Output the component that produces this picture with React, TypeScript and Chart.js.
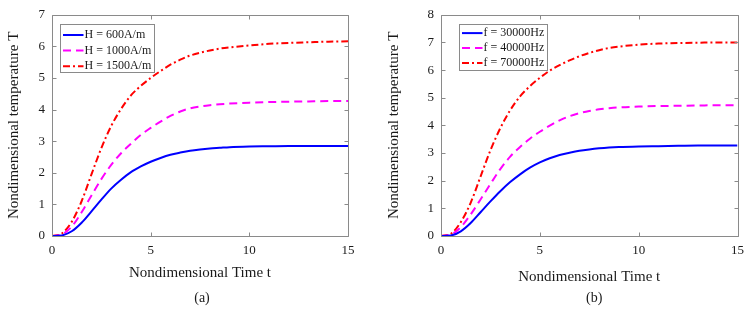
import React, { useEffect, useRef } from "react";
import { Chart, registerables } from "chart.js";

Chart.register(...registerables);

const FONT = "'Liberation Serif', 'Times New Roman', serif";
const TEXT_COLOR = "#1a1a1a";
const AXIS_COLOR = "#8a8a8a";

// Shared time axis (nondimensional time t)
const TIME = [0, 0.5, 1, 1.5, 2, 2.5, 3, 3.5, 4, 4.5, 5, 5.5, 6, 6.5, 7, 7.5, 8, 8.5, 9, 10, 11, 12, 13, 14, 15];

// Panel (a): magnetic field strength H
const H600 = [0, 0.02, 0.15, 0.42, 0.78, 1.15, 1.5, 1.78, 2.02, 2.2, 2.35, 2.47, 2.57, 2.64, 2.7, 2.74, 2.77, 2.79, 2.81, 2.83, 2.84, 2.85, 2.85, 2.85, 2.85];
const H1000 = [0, 0.05, 0.3, 0.75, 1.28, 1.8, 2.25, 2.62, 2.92, 3.2, 3.42, 3.62, 3.8, 3.94, 4.04, 4.1, 4.14, 4.17, 4.19, 4.22, 4.24, 4.25, 4.26, 4.27, 4.27];
const H1500 = [0, 0.08, 0.45, 1.1, 1.95, 2.78, 3.48, 4.02, 4.45, 4.75, 5.0, 5.22, 5.42, 5.58, 5.71, 5.8, 5.87, 5.93, 5.97, 6.03, 6.08, 6.11, 6.13, 6.15, 6.16];

// Panel (b): frequency f
const F30000 = [0, 0.02, 0.17, 0.47, 0.86, 1.25, 1.62, 1.95, 2.23, 2.47, 2.66, 2.81, 2.93, 3.01, 3.08, 3.13, 3.17, 3.2, 3.22, 3.24, 3.25, 3.26, 3.27, 3.27, 3.27];
const F40000 = [0, 0.05, 0.32, 0.78, 1.32, 1.88, 2.42, 2.87, 3.22, 3.52, 3.77, 3.99, 4.18, 4.33, 4.44, 4.52, 4.58, 4.62, 4.65, 4.68, 4.7, 4.71, 4.72, 4.73, 4.73];
const F70000 = [0, 0.08, 0.5, 1.2, 2.15, 3.1, 3.9, 4.55, 5.05, 5.42, 5.72, 5.98, 6.18, 6.35, 6.5, 6.62, 6.72, 6.8, 6.85, 6.92, 6.96, 6.98, 6.99, 7.0, 7.0];

const LABELS_A = ["H = 600A/m", "H = 1000A/m", "H = 1500A/m"];
const LABELS_B = ["f = 30000Hz", "f = 40000Hz", "f = 70000Hz"];

const X_TICKS = [0, 5, 10, 15];
const X_TITLE = "Nondimensional Time t";
const Y_TITLE = "Nondimensional temperature T";

const COLORS = ["#0000ff", "#ff00ff", "#ff0000"];
const DASHES: number[][] = [[], [8, 5], [7, 3, 2, 3]];

const framePlugin = {
  id: "matlabFrame",
  afterDatasetsDraw(chart: any) {
    const { ctx, chartArea, scales } = chart;
    const l = Math.round(chartArea.left) + 0.5;
    const r = Math.round(chartArea.right) + 0.5;
    const t = Math.round(chartArea.top) + 0.5;
    const b = Math.round(chartArea.bottom) + 0.5;
    ctx.save();
    ctx.strokeStyle = AXIS_COLOR;
    ctx.lineWidth = 1;
    ctx.setLineDash([]);
    ctx.beginPath();
    ctx.rect(l, t, r - l, b - t);
    const len = 4;
    scales.x.ticks.forEach((tk: any) => {
      const px = Math.round(scales.x.getPixelForValue(tk.value)) + 0.5;
      ctx.moveTo(px, b);
      ctx.lineTo(px, b - len);
      ctx.moveTo(px, t);
      ctx.lineTo(px, t + len);
    });
    scales.y.ticks.forEach((tk: any) => {
      const py = Math.round(scales.y.getPixelForValue(tk.value)) + 0.5;
      ctx.moveTo(l, py);
      ctx.lineTo(l + len, py);
      ctx.moveTo(r, py);
      ctx.lineTo(r - len, py);
    });
    ctx.stroke();
    ctx.restore();
  },
};

const boxLegendPlugin = {
  id: "boxLegend",
  afterDraw(chart: any, _args: any, opts: any) {
    const { ctx, chartArea } = chart;
    const x0 = Math.round(chartArea.left + opts.dx) + 0.5;
    const y0 = Math.round(chartArea.top + opts.dy) + 0.5;
    ctx.save();
    ctx.font = `12px ${FONT}`;
    const items = chart.data.datasets;
    const maxW = Math.max(...items.map((d: any) => ctx.measureText(d.label).width));
    const w = Math.round(24 + maxW + 3);
    ctx.fillStyle = "#ffffff";
    ctx.fillRect(x0, y0, w, opts.h);
    ctx.strokeStyle = AXIS_COLOR;
    ctx.lineWidth = 1;
    ctx.setLineDash([]);
    ctx.strokeRect(x0, y0, w, opts.h);
    items.forEach((d: any, i: number) => {
      const yy = y0 + opts.first + i * opts.rowH;
      ctx.strokeStyle = d.borderColor;
      ctx.lineWidth = 2;
      ctx.setLineDash(d.borderDash || []);
      ctx.beginPath();
      ctx.moveTo(x0 + 2.5, yy);
      ctx.lineTo(x0 + 23, yy);
      ctx.stroke();
      ctx.setLineDash([]);
      ctx.fillStyle = TEXT_COLOR;
      ctx.textBaseline = "middle";
      ctx.textAlign = "left";
      ctx.fillText(d.label, x0 + 24, yy);
    });
    ctx.restore();
  },
};

const captionPlugin = {
  id: "caption",
  afterDraw(chart: any, _args: any, opts: any) {
    const { ctx, chartArea } = chart;
    ctx.save();
    ctx.font = `14px ${FONT}`;
    ctx.fillStyle = TEXT_COLOR;
    ctx.textAlign = "center";
    ctx.textBaseline = "middle";
    ctx.fillText(opts.text, (chartArea.left + chartArea.right) / 2 + (opts.dx || 0), opts.y);
    ctx.restore();
  },
};

type PanelProps = {
  left: number;
  width: number;
  series: number[][];
  labels: string[];
  yMax: number;
  yAxisWidth: number;
  rightPad: number;
  yTitlePad: number;
  xTitlePad: number;
  legend: { dx: number; dy: number; h: number; first: number; rowH: number };
  caption: string;
  captionDx: number;
};

function Panel(p: PanelProps) {
  const ref = useRef<HTMLCanvasElement | null>(null);
  useEffect(() => {
    if (!ref.current) return;
    const datasets = p.series.map((vals, i) => ({
      label: p.labels[i],
      data: TIME.map((t, k) => ({ x: t, y: vals[k] })),
      borderColor: COLORS[i],
      backgroundColor: COLORS[i],
      borderWidth: 2,
      borderDash: DASHES[i],
      pointRadius: 0,
      fill: false,
      cubicInterpolationMode: "monotone" as const,
    }));
    const chart = new Chart(ref.current, {
      type: "line",
      data: { datasets },
      options: {
        animation: false,
        responsive: false,
        devicePixelRatio: 1,
        layout: { padding: { top: 7, right: p.rightPad, left: 0, bottom: 0 } },
        plugins: {
          legend: { display: false },
          tooltip: { enabled: false },
          boxLegend: p.legend,
          caption: { text: p.caption, y: 298, dx: p.captionDx },
        } as any,
        scales: {
          x: {
            type: "linear",
            min: 0,
            max: 15,
            afterBuildTicks: (s: any) => {
              s.ticks = X_TICKS.map((v) => ({ value: v }));
            },
            ticks: { font: { family: FONT, size: 13 }, color: TEXT_COLOR, padding: 7, maxRotation: 0 },
            grid: { display: false, drawTicks: false },
            border: { display: false },
            title: {
              display: true,
              text: X_TITLE,
              font: { family: FONT, size: 15 },
              color: TEXT_COLOR,
              padding: { top: 0, bottom: p.xTitlePad },
            },
            afterFit: (s: any) => {
              s.height = 76;
            },
          },
          y: {
            type: "linear",
            min: 0,
            max: p.yMax,
            ticks: { stepSize: 1, font: { family: FONT, size: 13 }, color: TEXT_COLOR, padding: 7 },
            grid: { display: false, drawTicks: false },
            border: { display: false },
            title: {
              display: true,
              text: Y_TITLE,
              font: { family: FONT, size: 15 },
              color: TEXT_COLOR,
              padding: { top: p.yTitlePad, bottom: 0 },
            },
            afterFit: (s: any) => {
              s.width = p.yAxisWidth;
            },
          },
        },
      },
      plugins: [framePlugin, boxLegendPlugin, captionPlugin],
    });
    return () => chart.destroy();
  }, []);
  return (
    <canvas
      ref={ref}
      width={p.width}
      height={312}
      style={{ position: "absolute", left: p.left, top: 0, width: p.width, height: 312 }}
    />
  );
}

export default function App() {
  return (
    <div style={{ position: "fixed", left: 0, top: 0, width: 751, height: 312, background: "#fff", overflow: "hidden" }}>
      <Panel
        left={0}
        width={375}
        series={[H600, H1000, H1500]}
        labels={LABELS_A}
        yMax={7}
        yAxisWidth={52}
        rightPad={27}
        yTitlePad={5}
        xTitlePad={30}
        legend={{ dx: 8, dy: 8.7, h: 48, first: 10.5, rowH: 15.6 }}
        caption="(a)"
        captionDx={2}
      />
      <Panel
        left={375}
        width={376}
        series={[F30000, F40000, F70000]}
        labels={LABELS_B}
        yMax={8}
        yAxisWidth={66}
        rightPad={12}
        yTitlePad={10}
        xTitlePad={26}
        legend={{ dx: 18, dy: 8.7, h: 46, first: 8.6, rowH: 15 }}
        caption="(b)"
        captionDx={5}
      />
    </div>
  );
}
